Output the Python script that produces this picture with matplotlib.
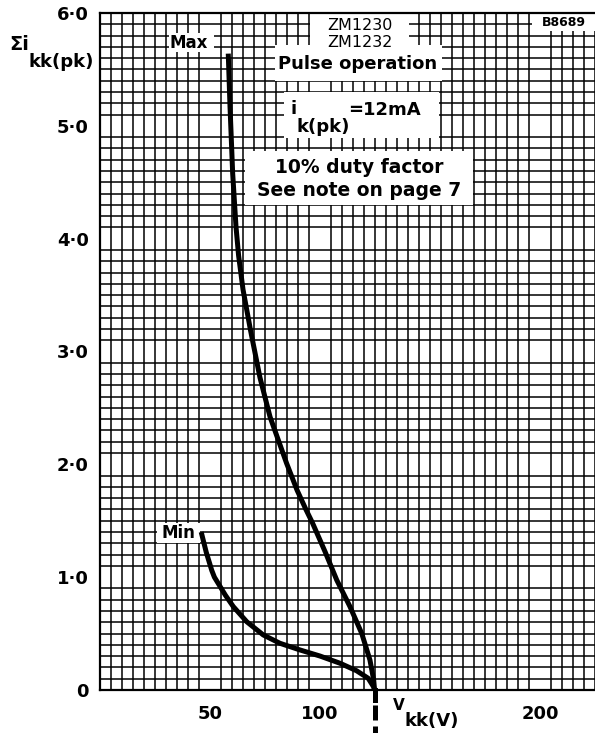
import numpy as np
import matplotlib
matplotlib.use('Agg')
import matplotlib.pyplot as plt
from matplotlib.patches import Rectangle

# DATA
max_v = [58.3, 59.1, 60.3, 61.8, 63.0, 65.0, 68.4, 72.7, 77.3, 84.8, 89.6, 93.6, 96.6, 102.3, 107.6, 113.6, 119.0, 122.7, 124.4, 124.8]
max_i = [5.64, 5.17, 4.58, 4.11, 3.85, 3.55, 3.19, 2.77, 2.42, 2.01, 1.77, 1.60, 1.48, 1.226, 0.975, 0.74, 0.50, 0.266, 0.089, 0.0]
min_v = [46.0, 48.3, 50.8, 52.0, 54.2, 57.0, 60.6, 66.7, 74.2, 81.8, 90.9, 100.0, 109.1, 116.6, 121.9, 124.3, 124.8]
min_i = [1.40, 1.22, 1.06, 1.0, 0.93, 0.84, 0.739, 0.605, 0.488, 0.414, 0.355, 0.301, 0.237, 0.171, 0.104, 0.03, 0.0]
x_ticks = [50, 100, 200]
x_labels = ['50', '100', '200']
y_ticks = [0, 1, 2, 3, 4, 5, 6]
y_labels = ['0', '1·0', '2·0', '3·0', '4·0', '5·0', '6·0']
v_cut = 124.8

plt.rcParams['font.family'] = ['DejaVu Sans']
fig = plt.figure(figsize=(5.95, 7.33), dpi=100)
ax = fig.add_axes([100 / 595, 43 / 733, 495 / 595, 677 / 733])
ax.set_xlim(0, 225)
ax.set_ylim(0, 6.0)

# graph paper
ax.set_xticks(np.arange(0, 226, 5), minor=True)
ax.set_yticks(np.arange(0, 6.01, 0.1), minor=True)
ax.grid(which='minor', color='black', linewidth=1.1, zorder=0)
ax.tick_params(which='both', length=0)
ax.set_xticks(x_ticks)
ax.set_xticklabels(x_labels, fontsize=13, fontweight='bold')
ax.set_yticks(y_ticks)
ax.set_yticklabels(y_labels, fontsize=13, fontweight='bold')
ax.tick_params(axis='x', pad=11)
ax.tick_params(axis='y', pad=8)
for s in ax.spines.values():
    s.set_linewidth(1.6)
ax.spines['right'].set_visible(False)

# white label boxes
def box(x0, y0, x1, y1):
    ax.add_patch(Rectangle((x0, y0), x1 - x0, y1 - y0, facecolor='white',
                           edgecolor='none', zorder=2))

box(95.5, 5.72, 140.5, 6.0)
box(79.5, 5.40, 155.5, 5.72)
box(83.5, 4.89, 154.0, 5.30)
box(66.0, 4.30, 169.5, 4.78)
box(196.5, 5.84, 225, 6.0)
box(31.5, 5.65, 52.0, 5.82)
box(26.0, 1.30, 45.5, 1.48)

ax.text(118, 5.89, 'ZM1230', ha='center', va='center', fontsize=11.5, zorder=3)
ax.text(118, 5.735, 'ZM1232', ha='center', va='center', fontsize=11.5, zorder=3)
ax.text(117, 5.545, 'Pulse operation', ha='center', va='center', fontsize=13, fontweight='bold', zorder=3)
ax.text(86.4, 5.15, 'i', ha='left', va='center', fontsize=13, fontweight='bold', zorder=3)
ax.text(89.3, 4.99, 'k(pk)', ha='left', va='center', fontsize=13, fontweight='bold', zorder=3)
ax.text(113.0, 5.14, '=12mA', ha='left', va='center', fontsize=13, fontweight='bold', zorder=3)
ax.text(118, 4.63, '10% duty factor', ha='center', va='center', fontsize=13.5, fontweight='bold', zorder=3)
ax.text(118, 4.43, 'See note on page 7', ha='center', va='center', fontsize=13.5, fontweight='bold', zorder=3)
ax.text(211, 5.92, 'B8689', ha='center', va='center', fontsize=9, fontweight='bold', zorder=3)
ax.text(40.5, 5.735, 'Max', ha='center', va='center', fontsize=12, fontweight='bold', zorder=3)
ax.text(35.5, 1.39, 'Min', ha='center', va='center', fontsize=12, fontweight='bold', zorder=3)

# curves
ax.plot(max_v, max_i, color='black', linewidth=3.6, solid_capstyle='butt', zorder=4)
ax.plot(min_v, min_i, color='black', linewidth=3.6, solid_capstyle='butt', zorder=4)
ax.plot([v_cut, v_cut], [0, -0.09], color='black', linewidth=3.6, clip_on=False, zorder=4)
ax.plot([v_cut, v_cut], [-0.13, -0.39], color='black', linewidth=3.6,
        linestyle=(0, (3.0, 1.2)), clip_on=False, zorder=4)

# axis titles
fig.text(9 / 595, 1 - 44 / 733, 'Σi', fontsize=14, fontweight='bold', ha='left', va='center')
fig.text(29 / 595, 1 - 62 / 733, 'kk(pk)', fontsize=13, fontweight='bold', ha='left', va='center')
fig.text(393 / 595, 1 - 705 / 733, 'V', fontsize=11, fontweight='bold', ha='left', va='center')
fig.text(405 / 595, 1 - 721 / 733, 'kk(V)', fontsize=13, fontweight='bold', ha='left', va='center')

fig.savefig('out.png', dpi=100)
